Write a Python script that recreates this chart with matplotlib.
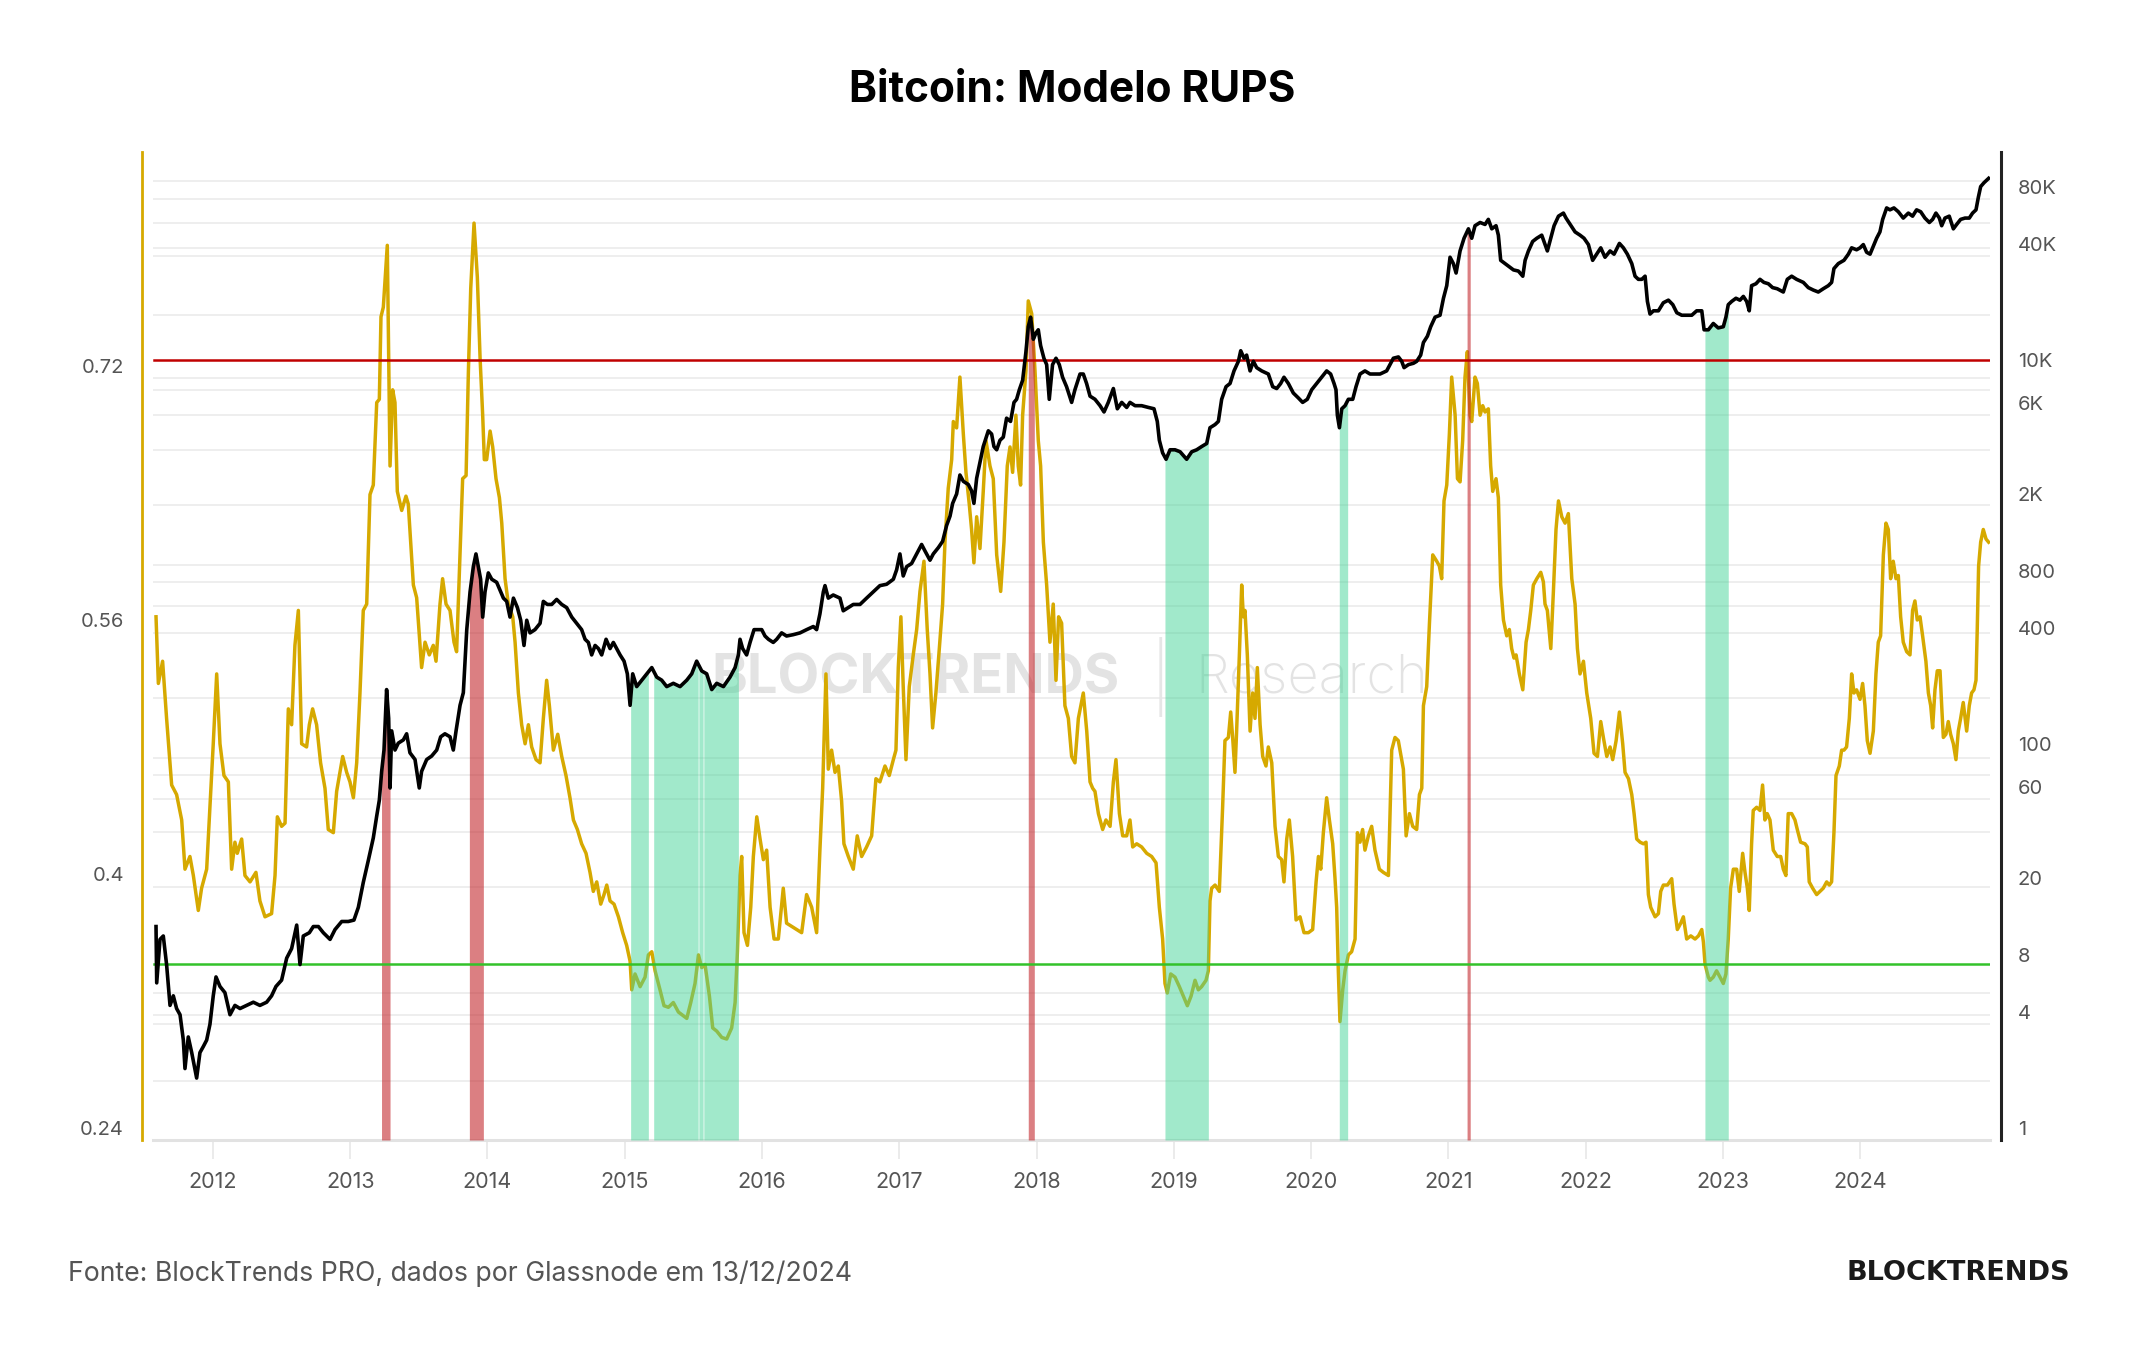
import numpy as np
import matplotlib
matplotlib.use("Agg")
import matplotlib.pyplot as plt

plt.rcParams['font.family'] = ['Inter', 'DejaVu Sans']

# RUPS (left axis), decimal years
rups_years = [
    2011.585, 2011.602, 2011.633, 2011.662, 2011.699, 2011.735, 2011.772, 2011.796, 2011.832, 2011.857,
    2011.893, 2011.917, 2011.954, 2011.978, 2012.002, 2012.027, 2012.051, 2012.080, 2012.112, 2012.136,
    2012.160, 2012.177, 2012.209, 2012.233, 2012.270, 2012.313, 2012.342, 2012.379, 2012.427, 2012.452,
    2012.469, 2012.500, 2012.525, 2012.549, 2012.573, 2012.597, 2012.622, 2012.646, 2012.682, 2012.702,
    2012.726, 2012.755, 2012.784, 2012.816, 2012.840, 2012.877, 2012.901, 2012.945, 2012.974, 2012.998,
    2013.023, 2013.047, 2013.071, 2013.095, 2013.120, 2013.144, 2013.168, 2013.193, 2013.212, 2013.224,
    2013.241, 2013.270, 2013.290, 2013.309, 2013.326, 2013.343, 2013.375, 2013.406, 2013.423, 2013.460,
    2013.484, 2013.520, 2013.545, 2013.576, 2013.605, 2013.625, 2013.654, 2013.673, 2013.698, 2013.727,
    2013.756, 2013.775, 2013.800, 2013.819, 2013.844, 2013.861, 2013.878, 2013.902, 2013.926, 2013.946,
    2013.965, 2013.977, 2013.994, 2014.019, 2014.038, 2014.062, 2014.087, 2014.104, 2014.128, 2014.152,
    2014.184, 2014.201, 2014.225, 2014.249, 2014.274, 2014.298, 2014.322, 2014.354, 2014.383, 2014.407,
    2014.431, 2014.451, 2014.480, 2014.512, 2014.541, 2014.572, 2014.601, 2014.626, 2014.655, 2014.686,
    2014.718, 2014.747, 2014.771, 2014.796, 2014.825, 2014.849, 2014.869, 2014.893, 2014.922, 2014.954,
    2014.985, 2015.014, 2015.039, 2015.051, 2015.075, 2015.112, 2015.148, 2015.172, 2015.197, 2015.221,
    2015.257, 2015.286, 2015.318, 2015.354, 2015.391, 2015.422, 2015.452, 2015.481, 2015.512, 2015.537,
    2015.561, 2015.585, 2015.617, 2015.641, 2015.670, 2015.707, 2015.743, 2015.779, 2015.804, 2015.821,
    2015.840, 2015.852, 2015.869, 2015.894, 2015.918, 2015.937, 2015.962, 2015.986, 2016.010, 2016.034,
    2016.059, 2016.088, 2016.119, 2016.155, 2016.179, 2016.216, 2016.252, 2016.289, 2016.325, 2016.362,
    2016.398, 2016.422, 2016.442, 2016.466, 2016.483, 2016.507, 2016.532, 2016.556, 2016.580, 2016.597,
    2016.629, 2016.665, 2016.694, 2016.726, 2016.762, 2016.799, 2016.830, 2016.859, 2016.896, 2016.927,
    2016.957, 2016.976, 2016.993, 2017.012, 2017.029, 2017.049, 2017.073, 2017.102, 2017.127, 2017.151,
    2017.180, 2017.204, 2017.224, 2017.243, 2017.267, 2017.292, 2017.316, 2017.333, 2017.357, 2017.382,
    2017.394, 2017.418, 2017.442, 2017.467, 2017.486, 2017.510, 2017.527, 2017.544, 2017.564, 2017.588,
    2017.612, 2017.632, 2017.661, 2017.685, 2017.710, 2017.739, 2017.763, 2017.787, 2017.807, 2017.826,
    2017.850, 2017.867, 2017.884, 2017.899, 2017.923, 2017.940, 2017.965, 2017.989, 2018.013, 2018.030,
    2018.050, 2018.074, 2018.098, 2018.122, 2018.142, 2018.161, 2018.183, 2018.207, 2018.232, 2018.256,
    2018.280, 2018.305, 2018.341, 2018.366, 2018.390, 2018.409, 2018.426, 2018.451, 2018.482, 2018.506,
    2018.536, 2018.560, 2018.579, 2018.604, 2018.628, 2018.657, 2018.681, 2018.701, 2018.730, 2018.766,
    2018.803, 2018.839, 2018.871, 2018.895, 2018.919, 2018.936, 2018.953, 2018.978, 2019.009, 2019.041,
    2019.070, 2019.099, 2019.126, 2019.155, 2019.179, 2019.203, 2019.235, 2019.252, 2019.264, 2019.276,
    2019.301, 2019.332, 2019.356, 2019.373, 2019.398, 2019.415, 2019.429, 2019.446, 2019.458, 2019.478,
    2019.495, 2019.507, 2019.519, 2019.536, 2019.556, 2019.575, 2019.592, 2019.609, 2019.629, 2019.648,
    2019.672, 2019.689, 2019.714, 2019.738, 2019.762, 2019.786, 2019.803, 2019.823, 2019.842, 2019.866,
    2019.891, 2019.920, 2019.949, 2019.981, 2020.012, 2020.037, 2020.054, 2020.071, 2020.090, 2020.114,
    2020.134, 2020.158, 2020.175, 2020.187, 2020.199, 2020.211, 2020.231, 2020.248, 2020.272, 2020.296,
    2020.321, 2020.338, 2020.357, 2020.376, 2020.393, 2020.418, 2020.442, 2020.466, 2020.498, 2020.527,
    2020.564, 2020.588, 2020.612, 2020.636, 2020.661, 2020.673, 2020.693, 2020.717, 2020.741, 2020.770,
    2020.790, 2020.807, 2020.819, 2020.843, 2020.863, 2020.887, 2020.916, 2020.935, 2020.952, 2020.969,
    2020.989, 2021.008, 2021.025, 2021.050, 2021.067, 2021.086, 2021.105, 2021.122, 2021.139, 2021.159,
    2021.171, 2021.195, 2021.212, 2021.232, 2021.251, 2021.268, 2021.292, 2021.309, 2021.324, 2021.348,
    2021.365, 2021.382, 2021.402, 2021.426, 2021.445, 2021.462, 2021.479, 2021.494, 2021.518, 2021.543,
    2021.567, 2021.584, 2021.601, 2021.620, 2021.645, 2021.674, 2021.693, 2021.705, 2021.722, 2021.747,
    2021.766, 2021.785, 2021.803, 2021.827, 2021.851, 2021.875, 2021.900, 2021.924, 2021.941, 2021.960,
    2021.985, 2022.009, 2022.038, 2022.062, 2022.087, 2022.111, 2022.130, 2022.155, 2022.179, 2022.198,
    2022.223, 2022.247, 2022.271, 2022.288, 2022.313, 2022.337, 2022.354, 2022.373, 2022.398, 2022.422,
    2022.441, 2022.458, 2022.475, 2022.507, 2022.531, 2022.548, 2022.567, 2022.597, 2022.628, 2022.645,
    2022.669, 2022.694, 2022.713, 2022.737, 2022.767, 2022.798, 2022.823, 2022.847, 2022.859, 2022.871,
    2022.895, 2022.907, 2022.931, 2022.955, 2022.980, 2023.004, 2023.023, 2023.040, 2023.057, 2023.077,
    2023.101, 2023.120, 2023.145, 2023.162, 2023.179, 2023.193, 2023.210, 2023.222, 2023.247, 2023.271,
    2023.290, 2023.307, 2023.324, 2023.344, 2023.368, 2023.397, 2023.422, 2023.441, 2023.460, 2023.477,
    2023.502, 2023.526, 2023.543, 2023.567, 2023.599, 2023.616, 2023.630, 2023.655, 2023.684, 2023.708,
    2023.732, 2023.757, 2023.776, 2023.793, 2023.810, 2023.825, 2023.849, 2023.866, 2023.883, 2023.902,
    2023.922, 2023.939, 2023.956, 2023.975, 2024.000, 2024.019, 2024.036, 2024.053, 2024.073, 2024.097,
    2024.116, 2024.133, 2024.150, 2024.170, 2024.189, 2024.206, 2024.223, 2024.242, 2024.262, 2024.279,
    2024.296, 2024.315, 2024.340, 2024.364, 2024.383, 2024.400, 2024.417, 2024.437, 2024.456, 2024.480,
    2024.498, 2024.515, 2024.529, 2024.546, 2024.563, 2024.583, 2024.595, 2024.607, 2024.626, 2024.643,
    2024.660, 2024.680, 2024.699, 2024.716, 2024.733, 2024.752, 2024.777, 2024.796, 2024.813, 2024.830,
    2024.845, 2024.854, 2024.864, 2024.879, 2024.898, 2024.918, 2024.937,
]
rups_values = [
    0.562, 0.520, 0.534, 0.498, 0.456, 0.450, 0.434, 0.403, 0.411, 0.399,
    0.377, 0.391, 0.403, 0.442, 0.482, 0.526, 0.482, 0.462, 0.458, 0.403,
    0.420, 0.413, 0.422, 0.399, 0.395, 0.401, 0.383, 0.373, 0.375, 0.399,
    0.436, 0.430, 0.432, 0.504, 0.494, 0.544, 0.566, 0.482, 0.480, 0.494,
    0.504, 0.494, 0.470, 0.454, 0.428, 0.426, 0.452, 0.474, 0.464, 0.458,
    0.448, 0.470, 0.514, 0.566, 0.570, 0.639, 0.645, 0.697, 0.699, 0.751,
    0.757, 0.796, 0.657, 0.705, 0.697, 0.641, 0.629, 0.638, 0.633, 0.582,
    0.574, 0.530, 0.546, 0.538, 0.544, 0.534, 0.570, 0.586, 0.570, 0.566,
    0.546, 0.540, 0.601, 0.649, 0.651, 0.717, 0.769, 0.810, 0.776, 0.725,
    0.689, 0.661, 0.661, 0.679, 0.669, 0.649, 0.637, 0.621, 0.586, 0.570,
    0.562, 0.546, 0.514, 0.494, 0.482, 0.494, 0.480, 0.472, 0.470, 0.498,
    0.522, 0.506, 0.478, 0.488, 0.474, 0.462, 0.448, 0.434, 0.428, 0.419,
    0.413, 0.401, 0.389, 0.395, 0.381, 0.387, 0.393, 0.383, 0.381, 0.373,
    0.363, 0.355, 0.345, 0.327, 0.337, 0.329, 0.335, 0.349, 0.351, 0.339,
    0.327, 0.317, 0.316, 0.319, 0.313, 0.311, 0.309, 0.319, 0.331, 0.349,
    0.341, 0.343, 0.323, 0.303, 0.301, 0.297, 0.296, 0.303, 0.319, 0.351,
    0.399, 0.411, 0.363, 0.355, 0.379, 0.411, 0.436, 0.422, 0.409, 0.415,
    0.379, 0.359, 0.359, 0.391, 0.369, 0.367, 0.365, 0.363, 0.387, 0.379,
    0.363, 0.415, 0.454, 0.526, 0.466, 0.478, 0.464, 0.468, 0.446, 0.419,
    0.411, 0.403, 0.424, 0.411, 0.417, 0.424, 0.460, 0.458, 0.468, 0.462,
    0.472, 0.478, 0.530, 0.562, 0.518, 0.472, 0.518, 0.538, 0.554, 0.578,
    0.597, 0.554, 0.526, 0.492, 0.514, 0.542, 0.570, 0.609, 0.643, 0.661,
    0.685, 0.681, 0.713, 0.677, 0.653, 0.633, 0.617, 0.596, 0.625, 0.605,
    0.641, 0.673, 0.657, 0.649, 0.601, 0.578, 0.609, 0.657, 0.669, 0.653,
    0.689, 0.657, 0.645, 0.689, 0.717, 0.761, 0.753, 0.717, 0.673, 0.657,
    0.609, 0.582, 0.546, 0.570, 0.522, 0.562, 0.558, 0.506, 0.498, 0.474,
    0.470, 0.498, 0.514, 0.490, 0.458, 0.454, 0.452, 0.438, 0.428, 0.434,
    0.430, 0.458, 0.472, 0.438, 0.424, 0.424, 0.434, 0.417, 0.419, 0.417,
    0.413, 0.411, 0.407, 0.379, 0.359, 0.331, 0.325, 0.337, 0.335, 0.329,
    0.323, 0.317, 0.323, 0.333, 0.327, 0.329, 0.333, 0.339, 0.383, 0.391,
    0.393, 0.389, 0.442, 0.484, 0.486, 0.502, 0.486, 0.464, 0.490, 0.538,
    0.582, 0.562, 0.566, 0.538, 0.490, 0.514, 0.498, 0.530, 0.494, 0.474,
    0.468, 0.480, 0.470, 0.430, 0.411, 0.409, 0.395, 0.422, 0.434, 0.411,
    0.371, 0.373, 0.363, 0.363, 0.365, 0.395, 0.411, 0.403, 0.426, 0.448,
    0.434, 0.419, 0.397, 0.379, 0.339, 0.307, 0.327, 0.339, 0.349, 0.351,
    0.359, 0.426, 0.420, 0.428, 0.415, 0.424, 0.430, 0.415, 0.403, 0.401,
    0.399, 0.478, 0.486, 0.484, 0.472, 0.466, 0.424, 0.438, 0.430, 0.428,
    0.450, 0.454, 0.506, 0.518, 0.558, 0.601, 0.597, 0.594, 0.586, 0.635,
    0.645, 0.677, 0.713, 0.689, 0.649, 0.647, 0.673, 0.713, 0.729, 0.689,
    0.685, 0.713, 0.709, 0.689, 0.695, 0.691, 0.693, 0.657, 0.641, 0.649,
    0.637, 0.582, 0.560, 0.550, 0.554, 0.542, 0.536, 0.538, 0.526, 0.516,
    0.546, 0.554, 0.566, 0.582, 0.586, 0.590, 0.584, 0.570, 0.566, 0.542,
    0.578, 0.617, 0.635, 0.625, 0.621, 0.627, 0.586, 0.570, 0.542, 0.526,
    0.534, 0.514, 0.498, 0.476, 0.474, 0.496, 0.486, 0.474, 0.480, 0.472,
    0.484, 0.502, 0.482, 0.464, 0.460, 0.450, 0.438, 0.422, 0.420, 0.419,
    0.420, 0.387, 0.379, 0.373, 0.375, 0.389, 0.393, 0.393, 0.397, 0.381,
    0.365, 0.369, 0.373, 0.359, 0.361, 0.359, 0.361, 0.365, 0.357, 0.343,
    0.335, 0.333, 0.335, 0.339, 0.335, 0.331, 0.337, 0.359, 0.391, 0.403,
    0.403, 0.389, 0.413, 0.401, 0.391, 0.377, 0.419, 0.440, 0.442, 0.440,
    0.456, 0.434, 0.438, 0.434, 0.415, 0.411, 0.411, 0.403, 0.399, 0.438,
    0.438, 0.434, 0.428, 0.420, 0.419, 0.417, 0.395, 0.391, 0.387, 0.389,
    0.391, 0.395, 0.393, 0.395, 0.426, 0.462, 0.468, 0.478, 0.478, 0.480,
    0.498, 0.526, 0.514, 0.516, 0.510, 0.520, 0.506, 0.484, 0.476, 0.490,
    0.526, 0.546, 0.550, 0.601, 0.621, 0.617, 0.586, 0.597, 0.586, 0.588,
    0.562, 0.546, 0.540, 0.538, 0.566, 0.572, 0.560, 0.562, 0.550, 0.534,
    0.514, 0.506, 0.492, 0.516, 0.528, 0.528, 0.506, 0.486, 0.488, 0.496,
    0.488, 0.482, 0.472, 0.490, 0.498, 0.508, 0.490, 0.506, 0.514, 0.516,
    0.522, 0.554, 0.594, 0.609, 0.617, 0.611, 0.609,
]

# BTC price (right axis, USD), decimal years
price_years = [
    2011.585, 2011.590, 2011.614, 2011.638, 2011.662, 2011.687, 2011.711, 2011.735, 2011.760, 2011.784,
    2011.796, 2011.820, 2011.845, 2011.881, 2011.905, 2011.930, 2011.954, 2011.978, 2012.002, 2012.022,
    2012.051, 2012.087, 2012.124, 2012.160, 2012.197, 2012.245, 2012.294, 2012.342, 2012.391, 2012.427,
    2012.459, 2012.500, 2012.537, 2012.573, 2012.610, 2012.634, 2012.658, 2012.702, 2012.731, 2012.768,
    2012.804, 2012.853, 2012.889, 2012.938, 2012.986, 2013.027, 2013.059, 2013.095, 2013.132, 2013.168,
    2013.193, 2013.212, 2013.229, 2013.246, 2013.265, 2013.280, 2013.290, 2013.302, 2013.326, 2013.350,
    2013.387, 2013.411, 2013.435, 2013.472, 2013.503, 2013.520, 2013.557, 2013.593, 2013.630, 2013.659,
    2013.690, 2013.727, 2013.751, 2013.771, 2013.800, 2013.824, 2013.849, 2013.873, 2013.897, 2013.916,
    2013.933, 2013.950, 2013.965, 2013.982, 2014.006, 2014.031, 2014.067, 2014.096, 2014.116, 2014.140,
    2014.164, 2014.189, 2014.218, 2014.242, 2014.266, 2014.286, 2014.310, 2014.346, 2014.383, 2014.407,
    2014.436, 2014.468, 2014.504, 2014.541, 2014.577, 2014.614, 2014.650, 2014.686, 2014.711, 2014.735,
    2014.759, 2014.784, 2014.808, 2014.832, 2014.864, 2014.893, 2014.917, 2014.941, 2014.966, 2014.995,
    2015.019, 2015.039, 2015.058, 2015.087, 2015.124, 2015.160, 2015.197, 2015.233, 2015.269, 2015.306,
    2015.354, 2015.403, 2015.452, 2015.488, 2015.524, 2015.561, 2015.597, 2015.634, 2015.670, 2015.719,
    2015.767, 2015.804, 2015.828, 2015.840, 2015.859, 2015.888, 2015.913, 2015.942, 2015.974, 2015.998,
    2016.022, 2016.047, 2016.082, 2016.107, 2016.143, 2016.179, 2016.228, 2016.277, 2016.325, 2016.374,
    2016.398, 2016.422, 2016.447, 2016.459, 2016.483, 2016.519, 2016.568, 2016.592, 2016.629, 2016.665,
    2016.714, 2016.762, 2016.811, 2016.859, 2016.908, 2016.957, 2016.981, 2017.005, 2017.029, 2017.054,
    2017.090, 2017.127, 2017.163, 2017.187, 2017.224, 2017.248, 2017.285, 2017.316, 2017.345, 2017.370,
    2017.389, 2017.418, 2017.442, 2017.467, 2017.503, 2017.527, 2017.544, 2017.564, 2017.593, 2017.612,
    2017.649, 2017.673, 2017.690, 2017.710, 2017.734, 2017.758, 2017.782, 2017.811, 2017.836, 2017.855,
    2017.875, 2017.899, 2017.923, 2017.940, 2017.957, 2017.977, 2017.996, 2018.013, 2018.030, 2018.054,
    2018.074, 2018.093, 2018.117, 2018.142, 2018.166, 2018.190, 2018.219, 2018.256, 2018.280, 2018.317,
    2018.341, 2018.365, 2018.390, 2018.426, 2018.463, 2018.492, 2018.523, 2018.560, 2018.589, 2018.621,
    2018.657, 2018.681, 2018.718, 2018.766, 2018.815, 2018.856, 2018.880, 2018.895, 2018.919, 2018.944,
    2018.973, 2019.009, 2019.046, 2019.094, 2019.131, 2019.167, 2019.203, 2019.240, 2019.264, 2019.301,
    2019.325, 2019.349, 2019.381, 2019.410, 2019.439, 2019.471, 2019.488, 2019.512, 2019.531, 2019.556,
    2019.580, 2019.604, 2019.641, 2019.689, 2019.721, 2019.750, 2019.779, 2019.803, 2019.835, 2019.871,
    2019.908, 2019.939, 2019.973, 2020.005, 2020.041, 2020.078, 2020.114, 2020.143, 2020.168, 2020.182,
    2020.192, 2020.207, 2020.224, 2020.248, 2020.272, 2020.304, 2020.328, 2020.357, 2020.393, 2020.430,
    2020.466, 2020.503, 2020.551, 2020.600, 2020.637, 2020.661, 2020.678, 2020.710, 2020.746, 2020.770,
    2020.799, 2020.819, 2020.848, 2020.872, 2020.904, 2020.940, 2020.965, 2020.989, 2021.013, 2021.037,
    2021.057, 2021.086, 2021.115, 2021.147, 2021.171, 2021.195, 2021.232, 2021.268, 2021.292, 2021.317,
    2021.348, 2021.365, 2021.382, 2021.414, 2021.445, 2021.475, 2021.511, 2021.543, 2021.560, 2021.584,
    2021.615, 2021.645, 2021.681, 2021.705, 2021.722, 2021.747, 2021.771, 2021.803, 2021.839, 2021.858,
    2021.888, 2021.924, 2021.960, 2021.989, 2022.021, 2022.052, 2022.081, 2022.111, 2022.142, 2022.179,
    2022.208, 2022.247, 2022.276, 2022.305, 2022.337, 2022.361, 2022.385, 2022.410, 2022.434, 2022.451,
    2022.470, 2022.495, 2022.531, 2022.567, 2022.604, 2022.636, 2022.665, 2022.701, 2022.737, 2022.774,
    2022.810, 2022.847, 2022.864, 2022.895, 2022.931, 2022.967, 2023.004, 2023.023, 2023.040, 2023.065,
    2023.096, 2023.125, 2023.150, 2023.174, 2023.193, 2023.210, 2023.242, 2023.271, 2023.300, 2023.332,
    2023.363, 2023.397, 2023.441, 2023.470, 2023.502, 2023.538, 2023.587, 2023.623, 2023.660, 2023.696,
    2023.732, 2023.769, 2023.793, 2023.810, 2023.842, 2023.883, 2023.915, 2023.939, 2023.975, 2024.000,
    2024.024, 2024.048, 2024.073, 2024.102, 2024.121, 2024.145, 2024.165, 2024.194, 2024.218, 2024.247,
    2024.279, 2024.315, 2024.352, 2024.383, 2024.412, 2024.442, 2024.473, 2024.505, 2024.529, 2024.553,
    2024.578, 2024.595, 2024.619, 2024.650, 2024.680, 2024.704, 2024.733, 2024.765, 2024.796, 2024.820,
    2024.845, 2024.862, 2024.879, 2024.903, 2024.922, 2024.937,
]
price_values = [
    11.2, 5.7, 9.6, 10.0, 7.1, 4.35, 4.88, 4.19, 3.89, 2.87,
    2.04, 2.98, 2.47, 1.82, 2.47, 2.66, 2.87, 3.47, 4.88, 6.12,
    5.46, 5.07, 3.89, 4.35, 4.19, 4.35, 4.52, 4.35, 4.52, 4.88,
    5.46, 5.89, 7.67, 8.60, 11.4, 7.1, 10.0, 10.4, 11.2, 11.2,
    10.4, 9.6, 10.8, 11.9, 11.9, 12.1, 14.1, 19.0, 24.8, 32.4,
    42.2, 51, 72, 93, 192, 136, 59, 117, 93, 101,
    105, 113, 90, 83, 59, 72, 83, 86.5, 93, 109,
    113, 109, 93, 117, 159, 185, 394, 620, 839, 977,
    839, 721, 458, 620, 778, 721, 695, 620, 575, 553,
    458, 575, 513, 441, 326, 441, 379, 394, 425, 553,
    533, 533, 566, 533, 513, 458, 425, 394, 351, 338,
    291, 326, 314, 291, 351, 314, 338, 314, 291, 270,
    232, 159, 232, 199, 215, 232, 250, 223, 215, 199,
    207, 199, 215, 232, 270, 240, 232, 192, 207, 199,
    223, 250, 291, 351, 314, 291, 338, 394, 394, 394,
    365, 351, 338, 351, 379, 365, 371, 379, 394, 409,
    394, 476, 620, 668, 575, 597, 575, 494, 513, 533,
    533, 575, 620, 668, 679, 721, 808, 977, 750, 839,
    871, 977, 1094, 1014, 906, 977, 1054, 1136, 1374, 1538,
    1791, 2005, 2517, 2333, 2246, 2081, 1791, 2421, 3040, 3540,
    4277, 4115, 3540, 3406, 3819, 3963, 4977, 4786, 6012, 6240,
    6998, 7839, 11020, 14900, 16710, 12820, 13830, 14360, 11880, 10210,
    9460, 6240, 9460, 10210, 9460, 8130, 7260, 6012, 6998, 8450,
    8450, 7540, 6480, 6240, 5780, 5360, 6012, 7100, 5570, 6012,
    5660, 6012, 5780, 5780, 5660, 5570, 4786, 3819, 3281, 3040,
    3406, 3406, 3327, 3040, 3327, 3406, 3540, 3673, 4436, 4610,
    4786, 6240, 7260, 7540, 8770, 9840, 11170, 10210, 10600, 8770,
    9840, 9120, 8770, 8450, 7260, 7100, 7540, 8130, 7540, 6730,
    6340, 6012, 6240, 6998, 7540, 8130, 8770, 8450, 7540, 6998,
    5160, 4436, 5570, 5780, 6240, 6240, 7260, 8450, 8770, 8450,
    8450, 8450, 8770, 10210, 10370, 9840, 9120, 9460, 9610, 9840,
    10600, 12330, 13300, 14900, 16710, 17100, 20960, 24380, 34280, 31770,
    28370, 36970, 43050, 48200, 43050, 50030, 52000, 50800, 53970, 48200,
    50030, 44670, 33040, 31770, 30610, 29450, 29040, 27310, 33040, 36970,
    41420, 43050, 44670, 39900, 36970, 43050, 50030, 56100, 58210, 54830,
    50800, 46450, 44670, 43050, 39900, 33040, 35560, 38370, 34280, 36970,
    35560, 40460, 38370, 35560, 31770, 27310, 26300, 26300, 27310, 20180,
    17340, 18030, 18030, 19860, 20490, 19410, 17620, 17100, 17100, 17100,
    18030, 18030, 14360, 14360, 15490, 14690, 14900, 16710, 19410, 20180,
    20960, 20480, 21430, 20180, 18030, 24380, 24950, 26300, 25350, 24950,
    23820, 23490, 22590, 26300, 27310, 26300, 25350, 23820, 23120, 22590,
    23490, 24380, 25350, 29920, 31770, 33040, 35560, 38370, 37500, 38370,
    39900, 36390, 35560, 39900, 43050, 46450, 53970, 61930, 60530, 61930,
    59150, 54830, 58210, 56100, 60530, 59150, 54830, 52000, 53970, 58210,
    54830, 50030, 54830, 56100, 48200, 50800, 53970, 54830, 54830, 58210,
    60530, 70310, 80000, 83750, 86300, 88300,
]

# shaded zones (decimal years)
red_bands = [(2013.228, 2013.290), (2013.868, 2013.970), (2017.940, 2017.984), (2021.137, 2021.160)]
green_bands = [(2015.043, 2015.172), (2015.211, 2015.535), (2015.540, 2015.571), (2015.576, 2015.828),
               (2018.936, 2019.252), (2020.206, 2020.267), (2022.870, 2023.040)]
rups_upper = 0.724
rups_lower = 0.343

left_ticks = [0.24, 0.4, 0.56, 0.72]
left_labels = ['0.24', '0.4', '0.56', '0.72']
right_ticks = [1, 4, 8, 20, 60, 100, 400, 800, 2000, 6000, 10000, 40000, 80000]
right_labels = ['1', '4', '8', '20', '60', '100', '400', '800', '2K', '6K', '10K', '40K', '80K']
year_ticks = list(range(2012, 2025))
grid_levels = [85500, 69000, 51700, 38300, 34800, 17100, 8100, 7000, 5200, 3400, 1760,
               855, 698, 523, 378, 174, 84.5, 69, 51.7, 34.8, 18, 5.05, 3.9, 3.5, 1.76]

YELLOW = '#d6a900'
GRID = '#ededed'
TXT = '#555555'

fig = plt.figure(figsize=(21.44, 13.5), dpi=100)
ax1 = fig.add_axes([153 / 2144, 210 / 1350, 1837 / 2144, 988 / 1350])
ax2 = ax1.twinx()

x0, x1 = 2011.563, 2024.947
ax1.set_xlim(x0, x1)
ax1.set_ylim(0.2324, 0.8548)
ax2.set_yscale('log')
ax2.set_ylim(0.866, 121100)
ax2.set_xlim(x0, x1)

# everything is drawn on ax2 (top layer) so the bands can sit over the RUPS line
for g in grid_levels:
    ax2.axhline(g, color=GRID, lw=1.3, zorder=0.5)

ax2.text(0.415, 0.467, 'BLOCKTRENDS', transform=ax2.transAxes, ha='center', va='center',
         fontsize=39, fontweight='bold', color='#e3e3e3', zorder=1)
ax2.text(0.5485, 0.469, '|', transform=ax2.transAxes, ha='center', va='center',
         fontsize=48, fontweight='light', color='#e6e6e6', zorder=1)
ax2.text(0.631, 0.467, 'Research', transform=ax2.transAxes, ha='center', va='center',
         fontsize=39, fontweight='light', color='#e3e3e3', zorder=1)

ax2.plot(rups_years, rups_values, color=YELLOW, lw=2.5, transform=ax1.transData,
         scalex=False, scaley=False, zorder=2, solid_joinstyle='round')

log_price = np.log10(price_values)
for bands, col, alpha in [(red_bands, '#c42a2f', 0.6), (green_bands, '#45d498', 0.5)]:
    for s, e in bands:
        xs = np.linspace(s, e, 40)
        top = 10 ** np.interp(xs, price_years, log_price)
        ax2.fill_between(xs, 0.866, top, color=col, alpha=alpha, lw=0, zorder=3)

ax2.plot([x0 + 0.01, x1 - 0.005], [rups_upper, rups_upper], color='#c00000', lw=1.8,
         transform=ax1.transData, scalex=False, scaley=False, zorder=4)
ax2.plot([x0 + 0.01, x1 - 0.005], [rups_lower, rups_lower], color='#33c22a', lw=1.8,
         transform=ax1.transData, scalex=False, scaley=False, zorder=4)

ax2.plot(price_years, price_values, color='black', lw=2.6, zorder=5, solid_joinstyle='round')

# axes styling
for sp in ['top', 'right']:
    ax1.spines[sp].set_visible(False)
for sp in ['top', 'left', 'bottom']:
    ax2.spines[sp].set_visible(False)
ax1.spines['left'].set_color(YELLOW)
ax1.spines['left'].set_linewidth(2.0)
ax1.spines['left'].set_position(('outward', 8))
ax1.spines['bottom'].set_color('#e2e2e2')
ax1.spines['bottom'].set_linewidth(2.2)
ax2.spines['right'].set_color('#222222')
ax2.spines['right'].set_linewidth(2.2)
ax2.spines['right'].set_position(('outward', 8))

ax1.set_xticks(year_ticks)
ax1.set_xticklabels([str(y) for y in year_ticks])
ax1.tick_params(axis='x', length=14, width=1.2, color='#e8e8e8', labelcolor=TXT,
                labelsize=15.5, pad=9)
ax1.set_yticks(left_ticks)
ax1.set_yticklabels(left_labels)
ax1.tick_params(axis='y', length=0, labelcolor=TXT, labelsize=14.5, pad=13)
ax2.set_yticks(right_ticks)
ax2.set_yticklabels(right_labels)
ax2.minorticks_off()
ax2.tick_params(axis='y', length=0, labelcolor=TXT, labelsize=14.5, pad=12)

fig.text(0.5, 1 - 91 / 1350, 'Bitcoin: Modelo RUPS', ha='center', va='center',
         fontsize=30.5, fontweight='bold', color='black')
fig.text(68 / 2144, 1 - 1274 / 1350, 'Fonte: BlockTrends PRO, dados por Glassnode em 13/12/2024',
         ha='left', va='center', fontsize=19.2, color=TXT)
fig.text(2070 / 2144, 1 - 1273 / 1350, 'BLOCKTRENDS', ha='right', va='center',
         fontsize=19.5, fontweight='bold', color='#1a1a1a', family='DejaVu Sans')

fig.savefig('out.png', dpi=100, facecolor='white')
